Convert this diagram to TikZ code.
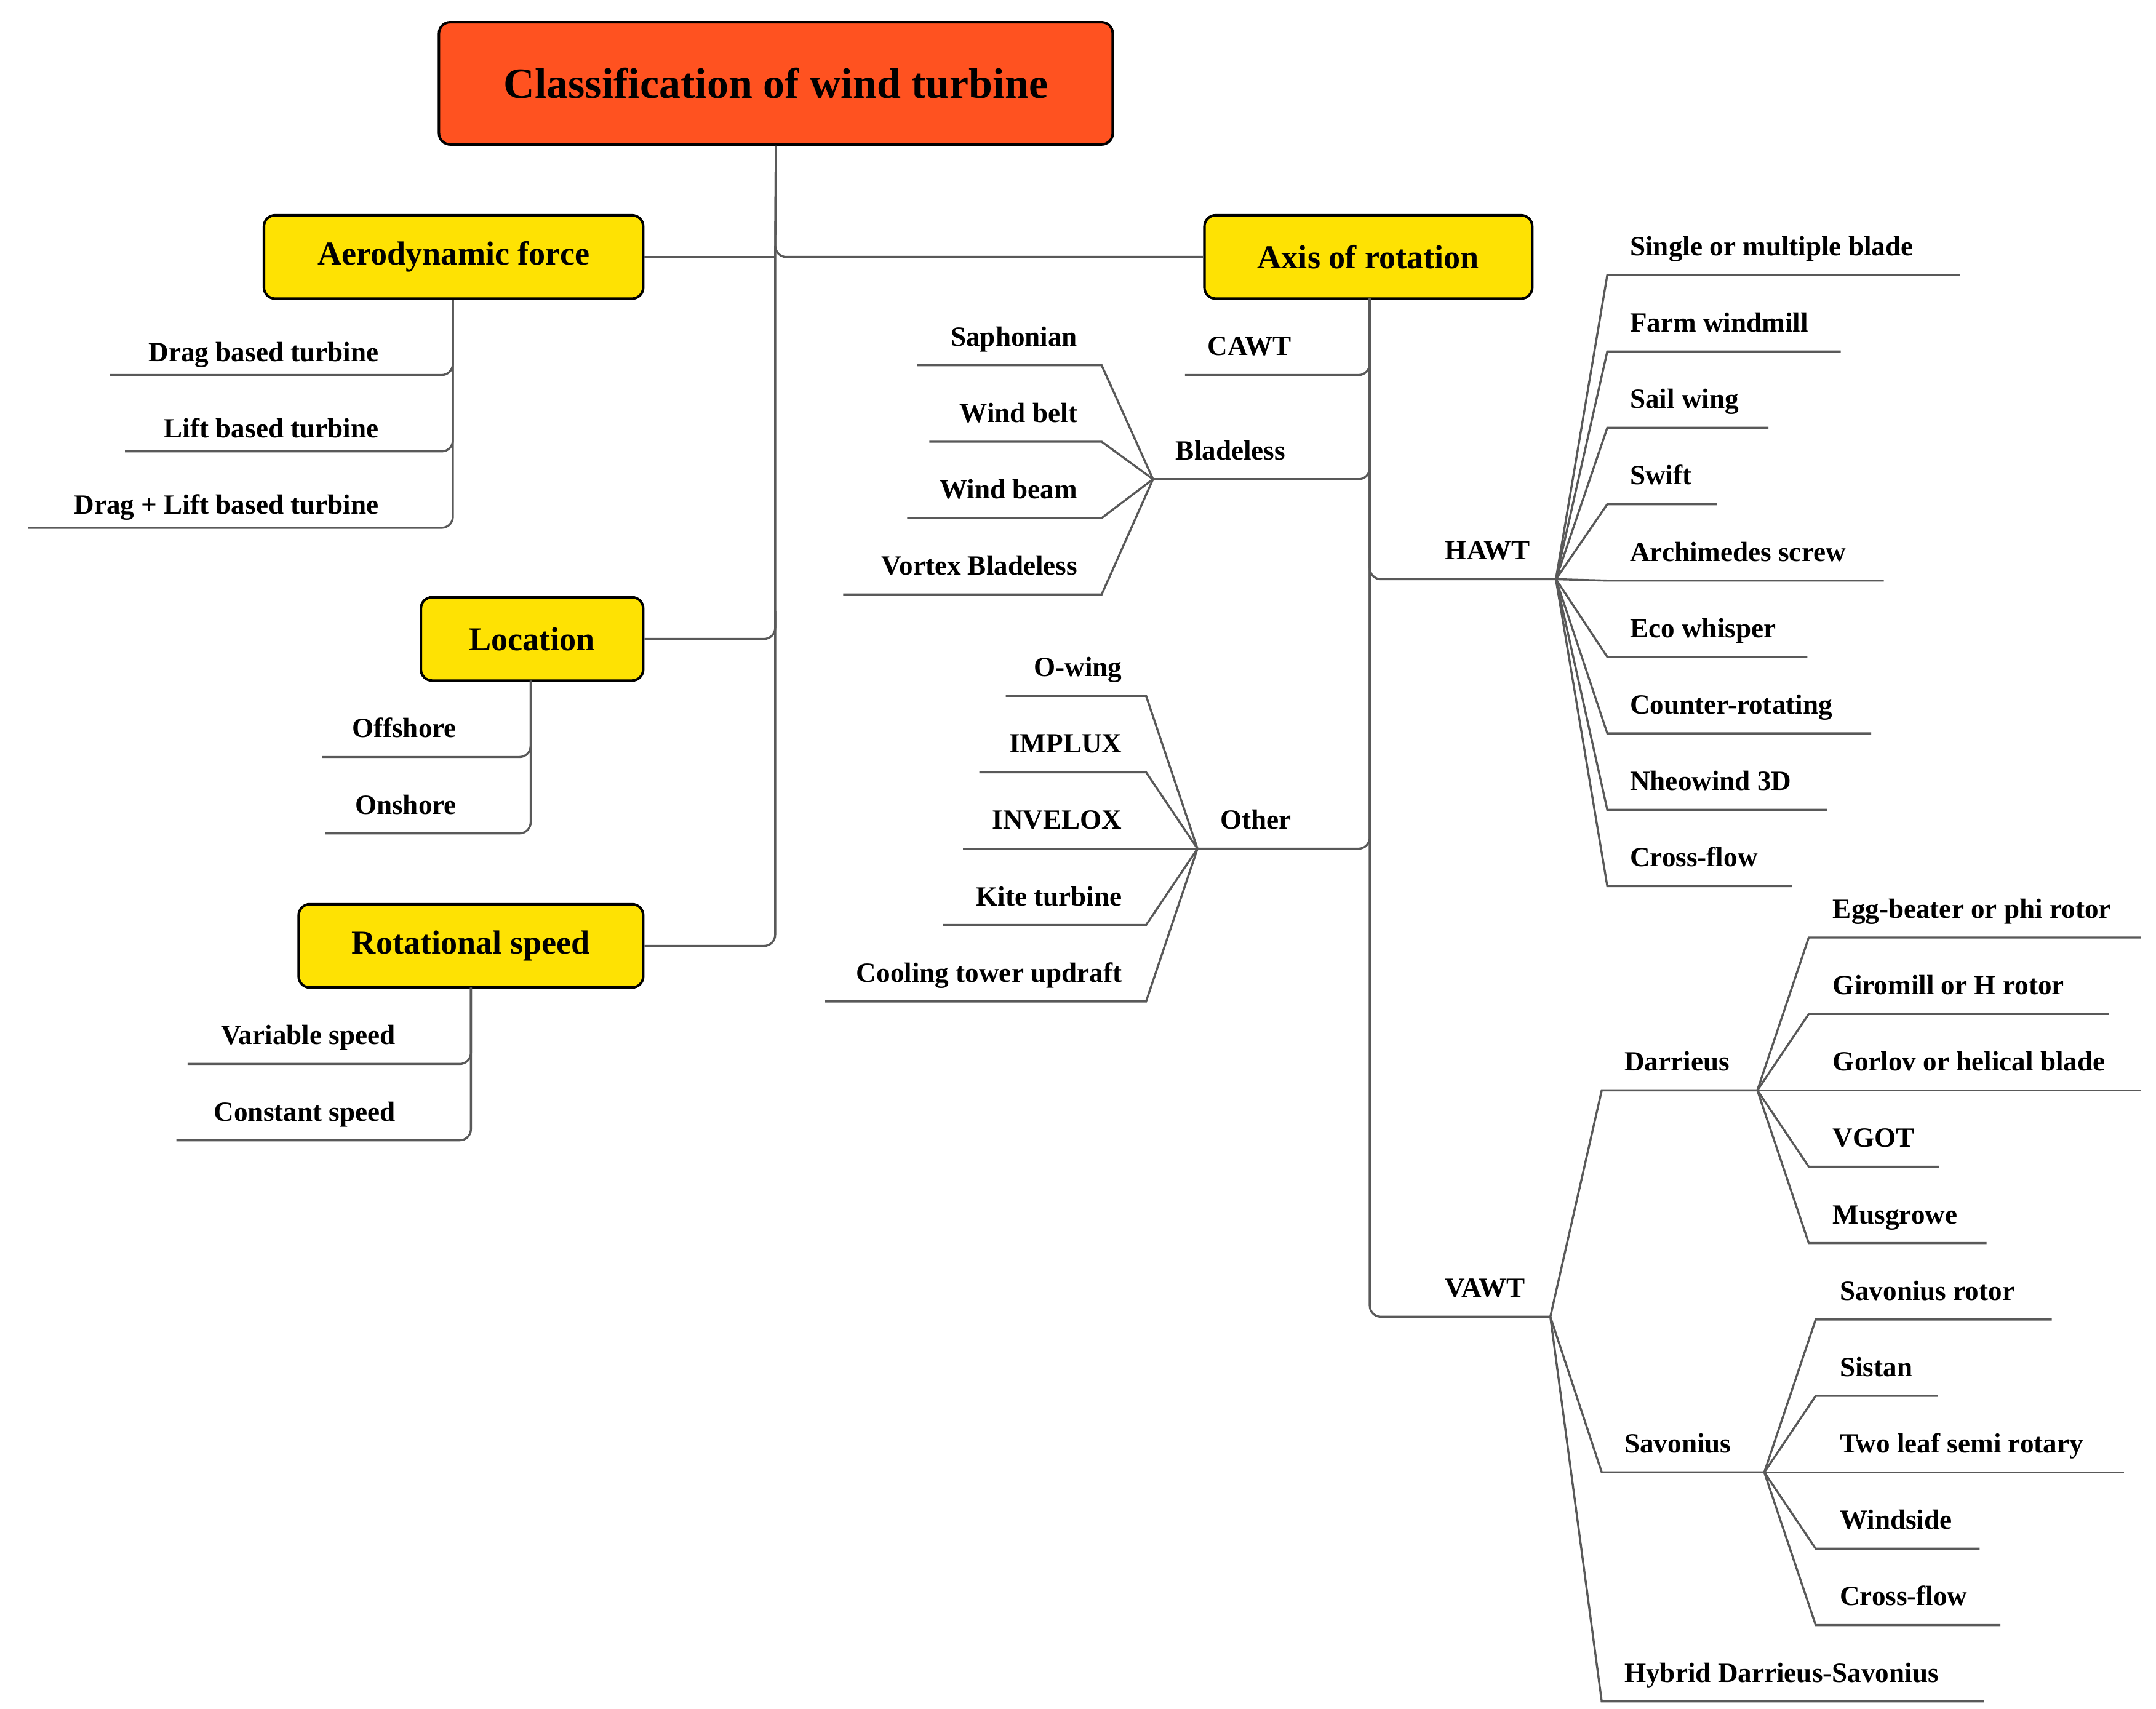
\documentclass[tikz,border=0pt]{standalone}
\usepackage{fontspec}
\setmainfont{Liberation Serif}
\begin{document}
\begin{tikzpicture}[x=0.5pt,y=-0.5pt,
  ln/.style={draw=black!65,line width=0.75pt},
  rc/.style={ln,rounded corners=4pt},
  box/.style={draw=black,line width=0.9pt,rounded corners=4pt,fill=yellow!85!orange,font=\bfseries\fontsize{12}{14}\selectfont,inner sep=0},
  lf/.style={font=\bfseries\fontsize{10}{12}\selectfont,inner sep=0}]
\useasboundingbox (0,0) rectangle (1552,1230);
% title
\node[draw=black,line width=0.9pt,rounded corners=4pt,fill={rgb,255:red,255;green,82;blue,32},minimum width=485*0.5pt,minimum height=88*0.5pt,font=\bfseries\fontsize{15.5}{18}\selectfont] (title) at (558.5,60) {Classification of wind turbine};
\node[box,minimum width=273*0.5pt,minimum height=60*0.5pt] (aero) at (326.5,185) {Aerodynamic force};
\node[box,minimum width=236*0.5pt,minimum height=60*0.5pt] (axis) at (985,185) {Axis of rotation};
\node[box,minimum width=160*0.5pt,minimum height=60*0.5pt] (loc) at (383,460) {Location};
\node[box,minimum width=248*0.5pt,minimum height=60*0.5pt] (rot) at (339,681) {Rotational speed};
% trunk
\coordinate (t1) at (558,185);
\draw[ln] (title.south) -- (t1);
\draw[rc] (t1) -- (aero.east);
\draw[rc] (title.south) -- (558,185) -- (axis.west);
\draw[rc] (t1) -- (558,460) -- (loc.east);
\draw[rc] (558,440) -- (558,681) -- (rot.east);
% aero leaves
\foreach \y/\x/\t [count=\i] in {270/79/Drag based turbine,325/90/Lift based turbine,380/20/Drag + Lift based turbine}{
  \node[lf,anchor=base east] (a\i) at (273,\y-10) {\t};
  \draw[rc] (aero.south -| 326,0) -- (326,\y) -- (\x,\y);}
\foreach \y/\x/\t [count=\i] in {545/232/Offshore,600/234/Onshore}{
  \node[lf,anchor=base east] (l\i) at (329,\y-14) {\t};
  \draw[rc] (382,490) -- (382,\y) -- (\x,\y);}
\foreach \y/\x/\t [count=\i] in {766/135/Variable speed,821/127/Constant speed}{
  \node[lf,anchor=base east] (r\i) at (285,\y-14) {\t};
  \draw[rc] (339,711) -- (339,\y) -- (\x,\y);}
% axis trunk
\coordinate (ax) at (986,215);
\draw[rc] (ax) -- (986,270) -- (853,270);
\draw[rc] (ax) -- (986,345) -- (830,345);
\draw[rc] (ax) -- (986,417) -- (1120,417);
\draw[rc] (ax) -- (986,611) -- (862,611);
\draw[rc] (ax) -- (986,948) -- (1116,948);
\node[lf,anchor=base west] (cawt) at (869,256) {CAWT};
\node[lf,anchor=base west] (blad) at (846,331) {Bladeless};
\node[lf,anchor=base west] (hawt) at (1040,403) {HAWT};
\node[lf,anchor=base west] (oth) at (878,597) {Other};
\node[lf,anchor=base west] (vawt) at (1040,934) {VAWT};
% bladeless
\coordinate (bf) at (830,345);
\foreach \y/\x/\t [count=\i] in {263/660/Saphonian,318/669/Wind belt,373/653/Wind beam,428/607/Vortex Bladeless}{
  \node[lf,anchor=base east] (b\i) at (776,\y-14) {\t};
  \draw[ln] (bf) -- (793,\y) -- (\x,\y);}
% other
\coordinate (of) at (862,611);
\foreach \y/\x/\t [count=\i] in {501/724/O-wing,556/705/IMPLUX,611/693/INVELOX,666/679/Kite turbine,721/594/Cooling tower updraft}{
  \node[lf,anchor=base east] (o\i) at (808,\y-14) {\t};
  \draw[ln] (of) -- (825,\y) -- (\x,\y);}
% hawt
\coordinate (hf) at (1120,417);
\foreach \y/\x/\t [count=\i] in {198/1411/Single or multiple blade,253/1325/Farm windmill,308/1273/Sail wing,363/1236/Swift,418/1356/Archimedes screw,473/1301/Eco whisper,528/1347/Counter-rotating,583/1315/Nheowind 3D,638/1290/Cross-flow}{
  \node[lf,anchor=base west] (h\i) at (1173,\y-14) {\t};
  \draw[ln] (hf) -- (1157,\y) -- (\x,\y);}
% vawt
\coordinate (vf) at (1116,948);
\foreach \y/\x/\t [count=\i] in {785/1265/Darrieus,1060/1270/Savonius,1225/1428/Hybrid Darrieus-Savonius}{
  \node[lf,anchor=base west] (v\i) at (1169,\y-14) {\t};
  \draw[ln] (vf) -- (1153,\y) -- (\x,\y);}
\coordinate (df) at (1265,785);
\foreach \y/\x/\t [count=\i] in {675/1541/Egg-beater or phi rotor,730/1518/Giromill or H rotor,785/1541/Gorlov or helical blade,840/1396/VGOT,895/1430/Musgrowe}{
  \node[lf,anchor=base west] (d\i) at (1319,\y-14) {\t};
  \draw[ln] (df) -- (1302,\y) -- (\x,\y);}
\coordinate (sf) at (1270,1060);
\foreach \y/\x/\t [count=\i] in {950/1477/Savonius rotor,1005/1395/Sistan,1060/1529/Two leaf semi rotary,1115/1425/Windside,1170/1440/Cross-flow}{
  \node[lf,anchor=base west] (s\i) at (1324,\y-14) {\t};
  \draw[ln] (sf) -- (1307,\y) -- (\x,\y);}
\end{tikzpicture}
\end{document}
